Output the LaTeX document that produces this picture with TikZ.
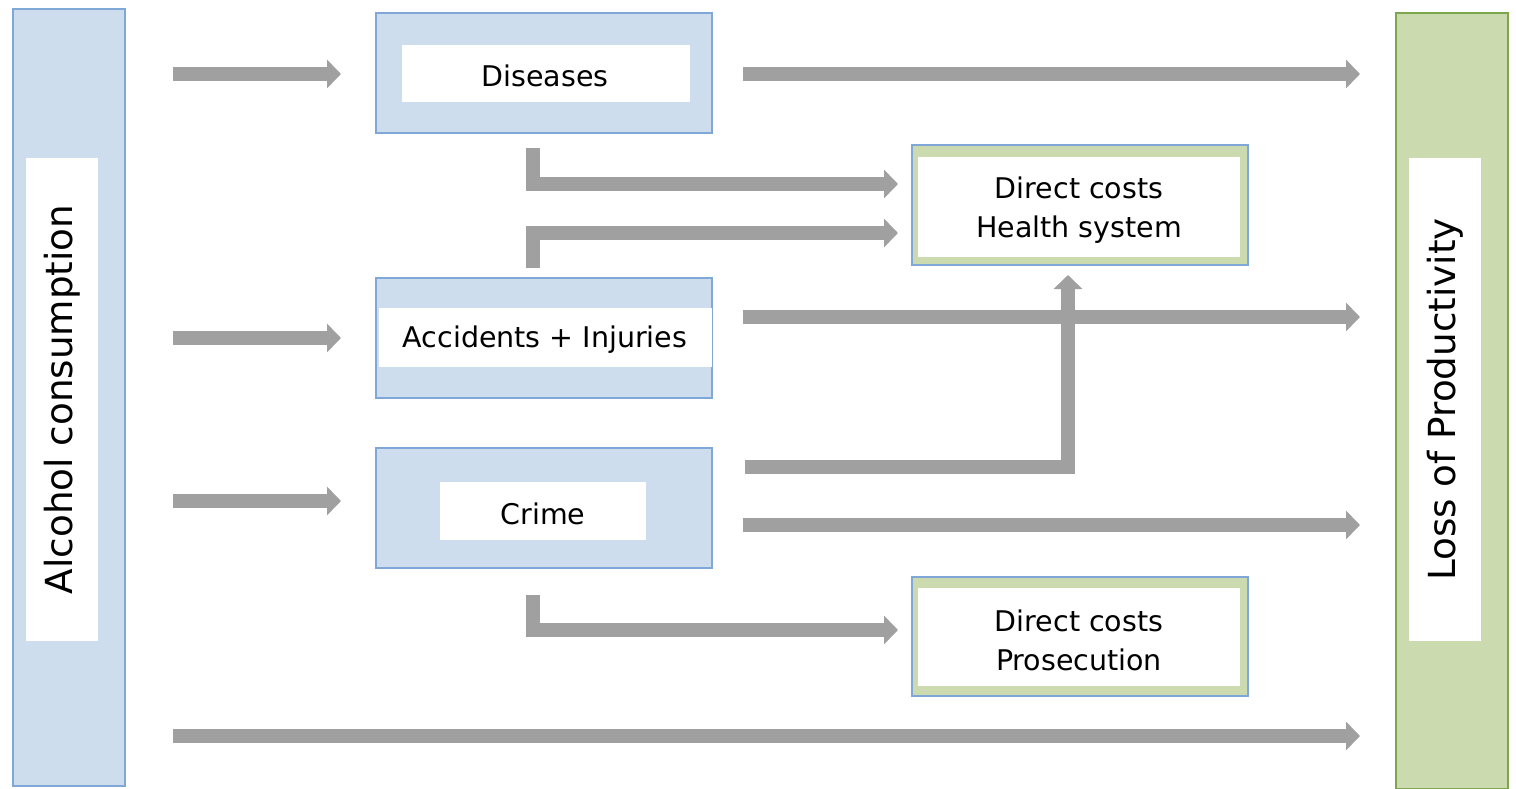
\documentclass[tikz,border=0pt]{standalone}
\usepackage{fontspec}
\setmainfont{DejaVu Sans}
\usetikzlibrary{arrows.meta}
\definecolor{bfill}{RGB}{206,221,238}
\definecolor{bline}{RGB}{127,167,216}
\definecolor{gfill}{RGB}{204,219,175}
\definecolor{gline}{RGB}{126,166,77}
\definecolor{agray}{RGB}{160,160,160}
\tikzset{
  bluebox/.style={draw=bline, fill=bfill, line width=1.5pt, rectangle, inner sep=0pt},
  greenbox/.style={draw=gline, fill=gfill, line width=1.5pt, rectangle, inner sep=0pt},
  costbox/.style={draw=bline, fill=gfill, line width=1.5pt, rectangle, inner sep=0pt},
  whitebox/.style={fill=white, rectangle, inner sep=0pt},
  txt/.style={inner sep=0pt, align=center, font=\fontsize{28.5}{39}\selectfont},
  sidetext/.style={fill=white, rectangle, inner sep=0pt, rotate=90, font=\fontsize{37.3}{40}\selectfont},
  arr/.style={draw=agray, line width=14pt, line join=miter, -{Triangle[length=14pt,width=28pt]}}
}
\begin{document}
\begin{tikzpicture}[x=1pt,y=-1pt]
\useasboundingbox (0,0) rectangle (1516,789);
% side columns
\node[bluebox, minimum width=112, minimum height=777] (alc) at (69,397.5) {};
\node[sidetext, minimum width=483, minimum height=72] (alct) at (62,399.5) {Alcohol consumption};
\node[greenbox, minimum width=112, minimum height=776] (lop) at (1452,401) {};
\node[sidetext, minimum width=483, minimum height=72] (lopt) at (1445,399.5) {Loss of Productivity};
% middle boxes
\node[bluebox, minimum width=336, minimum height=120] (dis) at (544,73) {};
\node[whitebox, minimum width=288, minimum height=57] (disw) at (546,73.5) {};
\node[txt] (dist) at (545,76) {Diseases};
\node[bluebox, minimum width=336, minimum height=120] (acc) at (544,338) {};
\node[whitebox, minimum width=333, minimum height=59] (accw) at (545.5,337.5) {};
\node[txt] (acct) at (545,340) {Accidents + Injuries};
\node[bluebox, minimum width=336, minimum height=120] (cri) at (544,508) {};
\node[whitebox, minimum width=206, minimum height=58] (criw) at (543,511) {};
\node[txt] (crit) at (543,514) {Crime};
% cost boxes
\node[costbox, minimum width=336, minimum height=120] (hs) at (1080,205) {};
\node[whitebox, minimum width=322, minimum height=100] (hsw) at (1079,207) {};
\node[txt] (hst) at (1079,210) {Direct costs\\Health system};
\node[costbox, minimum width=336, minimum height=119] (pr) at (1080,636.5) {};
\node[whitebox, minimum width=322, minimum height=98] (prw) at (1079,637) {};
\node[txt] (prt) at (1079,640) {Direct costs\\Prosecution};
% arrow end points
\coordinate (a1s) at (173,74);   \coordinate (a1e) at (341,74);
\coordinate (a2s) at (173,338);  \coordinate (a2e) at (341,338);
\coordinate (a3s) at (173,501);  \coordinate (a3e) at (341,501);
\coordinate (a4s) at (743,74);   \coordinate (a4e) at (1360,74);
\coordinate (a5s) at (743,317);  \coordinate (a5e) at (1360,317);
\coordinate (a6s) at (743,525);  \coordinate (a6e) at (1360,525);
\coordinate (a7s) at (173,736);  \coordinate (a7e) at (1360,736);
\coordinate (e1s) at (533,148);  \coordinate (e1e) at (898,184);
\coordinate (e2s) at (533,268);  \coordinate (e2e) at (898,233);
\coordinate (e3s) at (745,467);  \coordinate (e3e) at (1068,275);
\coordinate (e4s) at (533,595);  \coordinate (e4e) at (898,630);
% arrows
\draw[arr] (a1s) -- (a1e);
\draw[arr] (a2s) -- (a2e);
\draw[arr] (a3s) -- (a3e);
\draw[arr] (a4s) -- (a4e);
\draw[arr] (a5s) -- (a5e);
\draw[arr] (a6s) -- (a6e);
\draw[arr] (a7s) -- (a7e);
\draw[arr] (e1s) |- (e1e);
\draw[arr] (e2s) |- (e2e);
\draw[arr] (e3s) -| (e3e);
\draw[arr] (e4s) |- (e4e);
\end{tikzpicture}
\end{document}
